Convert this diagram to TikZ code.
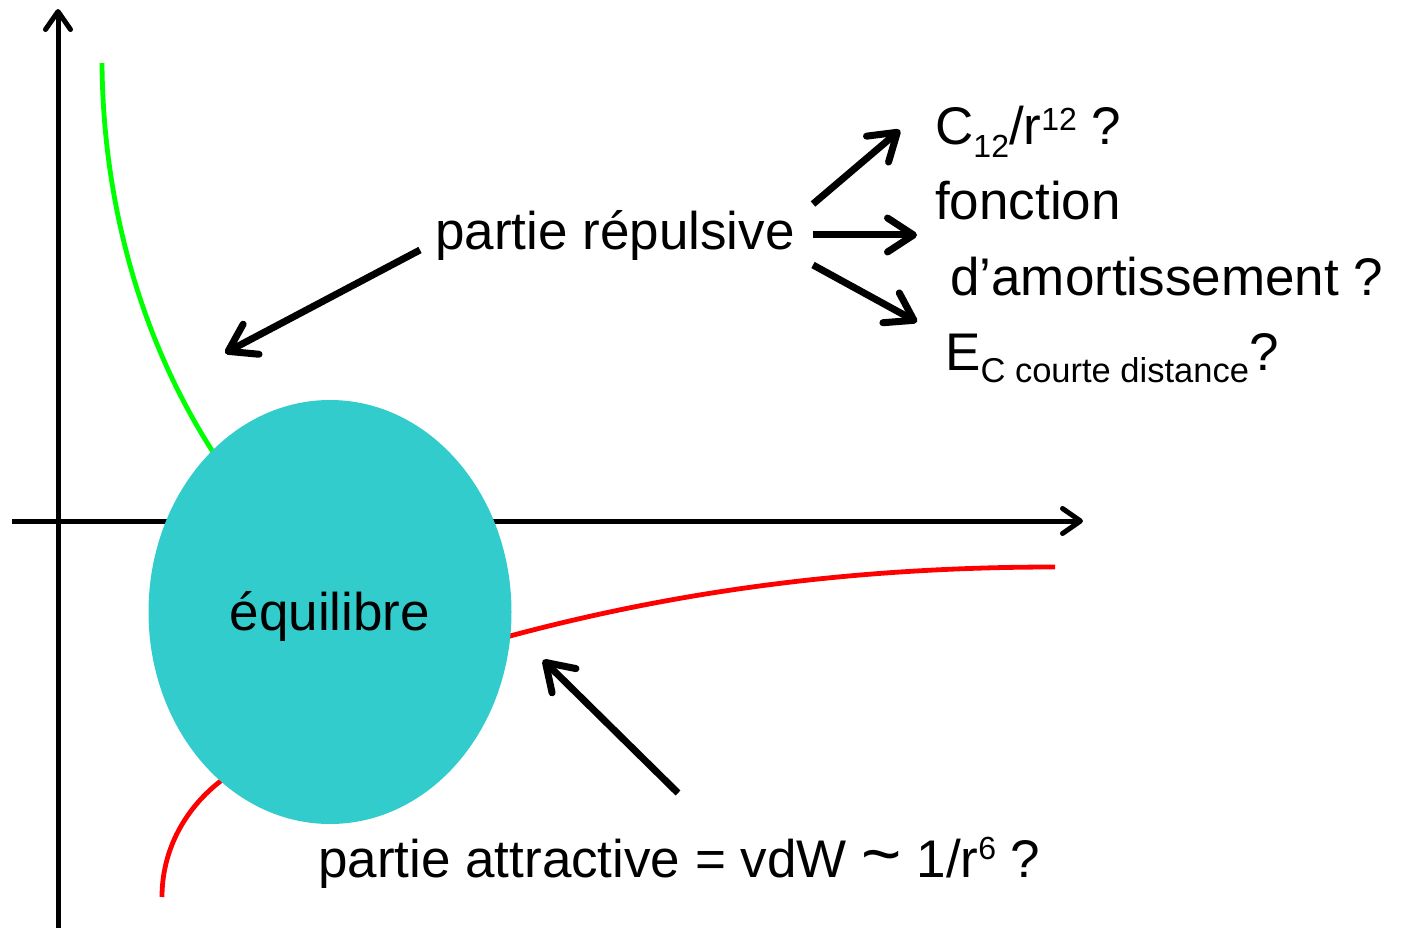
\documentclass[tikz,border=0pt]{standalone}
\usepackage{fontspec}
\setmainfont{Liberation Sans}
\usetikzlibrary{arrows.meta,shapes.geometric}
\definecolor{teal1}{RGB}{51,204,204}
\definecolor{green1}{RGB}{0,255,0}
\definecolor{red1}{RGB}{255,0,0}
\newcommand{\bigtxt}{\fontsize{53}{60}\selectfont}
\newcommand{\smalltxt}{\fontsize{32}{36}\selectfont}
\newcommand{\lsub}[1]{\raisebox{-13pt}{\smalltxt #1}}
\newcommand{\lsup}[1]{\raisebox{14pt}{\smalltxt #1}}
\tikzset{
  axis/.style={line width=5pt, -{Straight Barb[length=18pt,width=25pt,line cap=round,line join=round]}},
  bigarrow/.style={line width=7pt, -{Straight Barb[length=26pt,width=34pt,line cap=round,line join=round]}},
  lbl/.style={inner sep=0pt, anchor=base west, font=\bigtxt},
  curve/.style={line width=4.8pt}
}
\begin{document}
\begin{tikzpicture}[x=1pt,y=-1pt]
\useasboundingbox (0,0) rectangle (1401,928);
% axes
\coordinate (yb) at (58,928);
\coordinate (yt) at (58,9);
\coordinate (xl) at (12,521);
\coordinate (xr) at (1083,521);
\draw[axis] (yb) -- (yt);
\draw[axis] (xl) -- (xr);
% curves
\draw[curve, green1] (102,63) .. controls (103,200) and (139,337) .. (213,452) -- (240,490);
\draw[curve, red1] (162,897) .. controls (162,850) and (185,808) .. (222,780) -- (260,760);
\draw[curve, red1] (480,645) -- (510,636) .. controls (700,585) and (880,567) .. (1055,567);
% ellipse
\node[ellipse, fill=teal1, minimum width=363pt, minimum height=424pt, inner sep=0pt] (eq) at (330,612) {};
\node[inner sep=0pt, anchor=base, font=\bigtxt] (eqt) at (330,630) {équilibre};
% labels
\node[lbl] (rep) at (435,250) {partie répulsive};
\node[lbl] (c12) at (935,145) {C\lsub{12}/r\lsup{12} ?};
\node[lbl] (fonc) at (935,220) {fonction};
\node[lbl] (amort) at (950,296) {d’amortissement ?};
\node[lbl] (ec) at (945,370) {E\raisebox{-13pt}{\fontsize{34.5}{38}\selectfont C courte distance}?};
\node[lbl] (att) at (318,877) {partie attractive = vdW \scalebox{1.3}{\textasciitilde}{} 1/r\raisebox{18pt}{\fontsize{32}{36}\selectfont 6} ?};
% arrows
\coordinate (a1s) at (420,250);
\coordinate (a1e) at (225,353);
\coordinate (a2s) at (813,204);
\coordinate (a2e) at (900,130);
\coordinate (a3s) at (813,235);
\coordinate (a3e) at (917,235);
\coordinate (a4s) at (813,265);
\coordinate (a4e) at (917,322);
\coordinate (a5s) at (678,793);
\coordinate (a5e) at (543,660);
\draw[bigarrow] (a1s) -- (a1e);
\draw[bigarrow] (a2s) -- (a2e);
\draw[bigarrow] (a3s) -- (a3e);
\draw[bigarrow] (a4s) -- (a4e);
\draw[bigarrow] (a5s) -- (a5e);
\end{tikzpicture}
\end{document}
